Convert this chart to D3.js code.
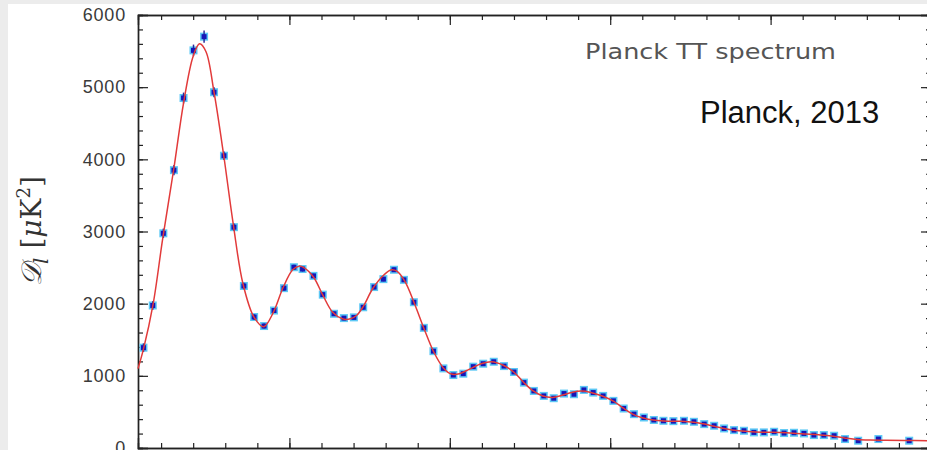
<!DOCTYPE html>
<html>
<head>
<meta charset="utf-8">
<script src="https://cdn.jsdelivr.net/npm/d3@7"></script>
<style>
  body { margin: 0; background: #ececec; }
  svg { display: block; }
</style>
</head>
<body>
<div id="my_dataviz"></div>
<script>
// binned data points (multipole l, D_l in muK^2, error)
var ell = [45, 74, 107, 140, 170, 201, 234, 265, 296, 327, 358, 390, 421, 452, 483, 514, 541, 575, 604, 639,
           670, 701, 730, 764, 793, 826, 857, 888, 919, 949, 980, 1011, 1042, 1073, 1104, 1137, 1169, 1200, 1231, 1262,
           1293, 1324, 1356, 1387, 1418, 1447, 1478, 1510, 1542, 1574, 1605, 1636, 1666, 1697, 1730, 1761, 1793, 1824, 1855, 1886,
           1917, 1948, 1979, 2011, 2042, 2073, 2104, 2135, 2166, 2198, 2232, 2273, 2336, 2432];
var dl = [1390, 1975, 2975, 3850, 4850, 5510, 5700, 4930, 4050, 3060, 2245, 1815, 1690, 1905, 2215, 2505, 2480, 2385, 2125, 1860,
          1800, 1810, 1950, 2230, 2340, 2470, 2330, 2020, 1665, 1342, 1103, 1011, 1030, 1127, 1168, 1195, 1135, 1053, 906, 791,
          722, 690, 754, 745, 805, 768, 722, 653, 547, 469, 423, 388, 377, 372, 377, 363, 331, 308, 271, 248,
          239, 216, 216, 225, 207, 211, 202, 179, 179, 170, 124, 101, 124, 101];
var err = [60, 60, 65, 70, 75, 80, 85, 70, 60, 50, 45, 40, 35, 35, 35, 35, 35, 30, 30, 30,
           30, 30, 30, 30, 30, 30, 30, 25, 25, 25, 25, 20, 20, 20, 20, 20, 20, 20, 20, 20,
           20, 20, 20, 20, 20, 20, 20, 20, 20, 20, 20, 20, 20, 20, 20, 20, 20, 20, 20, 20,
           20, 20, 20, 20, 20, 20, 20, 20, 20, 20, 25, 25, 25, 30];

// best-fit model curve
var modelEll = [28, 45, 75, 105, 140, 170, 200, 220, 240, 265, 295, 325, 355, 390, 420, 450, 480, 510, 530, 545,
                575, 605, 635, 665, 690, 710, 730, 760, 795, 818, 835, 860, 890, 920, 950, 980, 1005, 1030, 1060, 1100,
                1130, 1165, 1200, 1230, 1260, 1290, 1320, 1350, 1380, 1410, 1440, 1475, 1510, 1540, 1570, 1600, 1640, 1680, 1720, 1760,
                1790, 1820, 1850, 1880, 1910, 1950, 1990, 2030, 2070, 2110, 2150, 2190, 2230, 2270, 2310, 2360, 2420, 2490];
var modelDl = [1100, 1370, 1990, 2900, 3880, 4780, 5430, 5600, 5490, 4930, 4060, 3100, 2280, 1810, 1680, 1880, 2220, 2470, 2520, 2500,
               2370, 2110, 1880, 1790, 1790, 1840, 1960, 2210, 2400, 2470, 2450, 2310, 2000, 1650, 1330, 1110, 1025, 1030, 1090, 1170,
               1195, 1150, 1050, 910, 790, 720, 700, 730, 770, 790, 770, 720, 650, 555, 470, 420, 385, 372, 370, 358,
               335, 305, 275, 250, 235, 222, 218, 214, 206, 194, 182, 166, 140, 118, 110, 108, 104, 100];

var yTicks = [0, 1000, 2000, 3000, 4000, 5000, 6000];

var W = 927, H = 450;
var svg = d3.select("#my_dataviz")
  .append("svg")
    .attr("width", W)
    .attr("height", H);

// white panel over the grey border
svg.append("rect").attr("x", 8).attr("y", 4).attr("width", W - 8).attr("height", H - 4).attr("fill", "#ffffff");

var x = d3.scaleLinear().domain([28, 2500]).range([138, 931]);
var y = d3.scaleLinear().domain([0, 6000]).range([448, 15]);

var minorX = d3.range(100, 2501, 100);
var majorX = d3.range(500, 2501, 500);
var minorY = d3.range(0, 6001, 200);

var axisColor = "#222";

function styleAxis(g) {
  g.selectAll(".domain").attr("stroke", axisColor).attr("stroke-width", 1.4);
  g.selectAll(".tick line").attr("stroke", axisColor).attr("stroke-width", 1.2);
}

// left axis
svg.append("g").attr("transform", "translate(138,0)")
  .call(d3.axisLeft(y).tickValues(minorY).tickSize(-5).tickFormat(""))
  .call(styleAxis);
svg.append("g").attr("transform", "translate(138,0)")
  .call(d3.axisLeft(y).tickValues(yTicks).tickSize(-10).tickPadding(12).tickFormat(d3.format("d")))
  .call(styleAxis)
  .selectAll("text")
    .attr("fill", "#3a3a3a")
    .style("font-family", "Liberation Sans, Arial, sans-serif")
    .style("font-size", "18px")
    .style("letter-spacing", "0.8px");

// right axis
svg.append("g").attr("transform", "translate(931,0)")
  .call(d3.axisRight(y).tickValues(minorY).tickSize(-5).tickFormat(""))
  .call(styleAxis);
svg.append("g").attr("transform", "translate(931,0)")
  .call(d3.axisRight(y).tickValues(yTicks).tickSize(-10).tickFormat(""))
  .call(styleAxis);

// bottom axis
svg.append("g").attr("transform", "translate(0,448)")
  .call(d3.axisBottom(x).tickValues(minorX).tickSize(-5).tickFormat(""))
  .call(styleAxis);
svg.append("g").attr("transform", "translate(0,448)")
  .call(d3.axisBottom(x).tickValues(majorX).tickSize(-10).tickFormat(""))
  .call(styleAxis);

// top axis
svg.append("g").attr("transform", "translate(0,15)")
  .call(d3.axisTop(x).tickValues(minorX).tickSize(-5).tickFormat(""))
  .call(styleAxis);
svg.append("g").attr("transform", "translate(0,15)")
  .call(d3.axisTop(x).tickValues(majorX).tickSize(-10).tickFormat(""))
  .call(styleAxis);

// data points: error bars + squares
var points = ell.map(function(l, i) { return {l: l, v: dl[i], e: err[i]}; });

svg.selectAll("halo")
  .data(points)
  .enter()
  .append("rect")
    .attr("x", function(d) { return x(d.l) - 4; })
    .attr("y", function(d) { return y(d.v) - 4; })
    .attr("width", 8)
    .attr("height", 8)
    .attr("fill", "#5cc8f5");

svg.selectAll("errbar")
  .data(points)
  .enter()
  .append("line")
    .attr("x1", function(d) { return x(d.l); })
    .attr("x2", function(d) { return x(d.l); })
    .attr("y1", function(d) { return y(d.v - d.e); })
    .attr("y2", function(d) { return y(d.v + d.e); })
    .attr("stroke", "#2a2a9a")
    .attr("stroke-width", 1.5);

svg.selectAll("dot")
  .data(points)
  .enter()
  .append("rect")
    .attr("x", function(d) { return x(d.l) - 2.5; })
    .attr("y", function(d) { return y(d.v) - 2.5; })
    .attr("width", 5)
    .attr("height", 5)
    .attr("fill", "#1616b8");

// model curve
var model = modelEll.map(function(l, i) { return [l, modelDl[i]]; });
var line = d3.line()
  .curve(d3.curveCatmullRom.alpha(0.5))
  .x(function(d) { return x(d[0]); })
  .y(function(d) { return y(d[1]); });

svg.append("path")
  .datum(model)
  .attr("d", line)
  .attr("fill", "none")
  .attr("stroke", "#e23a3a")
  .attr("stroke-width", 1.5);

// texts
svg.append("text")
  .attr("x", 585)
  .attr("y", 59)
  .attr("textLength", 251)
  .attr("lengthAdjust", "spacingAndGlyphs")
  .attr("fill", "#555")
  .style("font-family", "DejaVu Sans, sans-serif")
  .style("font-size", "21px")
  .text("Planck TT spectrum");

svg.append("text")
  .attr("x", 700)
  .attr("y", 123)
  .attr("fill", "#111")
  .style("font-family", "Liberation Sans, Arial, sans-serif")
  .style("font-size", "31px")
  .text("Planck, 2013");

// y label: D_l [muK^2]
var ylab = svg.append("text")
  .attr("transform", "translate(41,231) rotate(-90)")
  .attr("text-anchor", "middle")
  .attr("fill", "#333")
  .style("font-family", "DejaVu Serif, Liberation Serif, serif")
  .style("font-size", "28px");
ylab.append("tspan").style("font-style", "italic").text("\uD835\uDC9F");
ylab.append("tspan").attr("dy", 7).style("font-size", "20px").style("font-style", "italic").text("l");
ylab.append("tspan").attr("dy", -7).text(" [");
ylab.append("tspan").style("font-style", "italic").text("\u03BC");
ylab.append("tspan").text("K");
ylab.append("tspan").attr("dy", -11).style("font-size", "18px").text("2");
ylab.append("tspan").attr("dy", 11).text("]");
</script>
</body>
</html>
